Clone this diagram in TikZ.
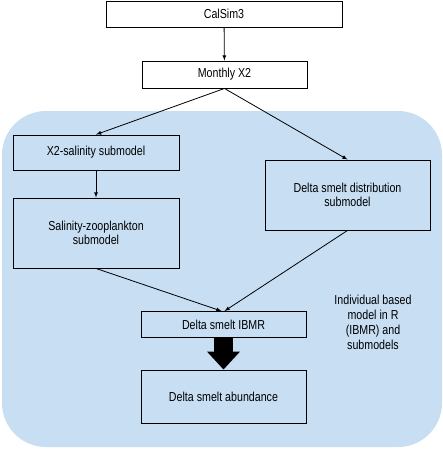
\documentclass[tikz,border=0pt]{standalone}
\usepackage{fontspec}
\setmainfont{Liberation Sans}[FakeStretch=0.82]
\usepackage{xcolor}
\usetikzlibrary{arrows}
\usetikzlibrary{arrows.meta}

\definecolor{ibmrblue}{RGB}{199,222,243}

\tikzset{
  box/.style={draw,line width=0.9pt,inner sep=0pt,align=center,
    font=\fontsize{13}{14.5}\selectfont},
  thinarrow/.style={-latex,line width=0.8pt}
}

\begin{document}
\begin{tikzpicture}[x=1pt,y=-1pt]
      \useasboundingbox (0,0) rectangle (443,450);
      % background region of the IBMR
      \fill[ibmrblue,rounded corners=44pt] (2,111) rectangle (442,447);

      \node[box,fill=white,minimum width=236pt,minimum height=26pt] (calsim) at (224,14) {CalSim3};
      \node[box,fill=white,minimum width=165pt,minimum height=27pt] (monthly) at (224.5,74.5) {Monthly X2};
      \node[box,fill=ibmrblue,minimum width=166pt,minimum height=35pt] (xsal) at (96,152.5) {X2-salinity submodel};
      \node[box,fill=ibmrblue,minimum width=166pt,minimum height=70pt] (salzoo) at (96,233) {Salinity-zooplankton\\submodel};
      \node[box,fill=ibmrblue,minimum width=165pt,minimum height=70pt] (dist) at (347.5,195) {Delta smelt distribution\\submodel};
      \node[box,fill=ibmrblue,minimum width=165pt,minimum height=26pt] (ibmr) at (223.5,324.5) {Delta smelt IBMR};
      \node[box,fill=ibmrblue,minimum width=165pt,minimum height=53pt] (abund) at (223.5,396.5) {Delta smelt abundance};
      \node[font=\fontsize{13}{15}\selectfont,align=center] (label) at (373,322) {Individual based\\model in R\\(IBMR) and\\submodels};

      \path[thinarrow] (calsim) edge (monthly);
      \path[thinarrow] (monthly.south) edge (xsal.north);
      \path[thinarrow] (monthly.south) edge (dist.north);
      \path[thinarrow] (xsal) edge (salzoo);
      \path[thinarrow] (salzoo.south) edge ([xshift=-2pt]ibmr.north);
      \path[thinarrow] (dist.south) edge ([xshift=1pt]ibmr.north);
      \draw[line width=19pt,-{Triangle[width=32pt,length=18pt]}] (ibmr.south) -- (abund.north);
\end{tikzpicture}
\end{document}
